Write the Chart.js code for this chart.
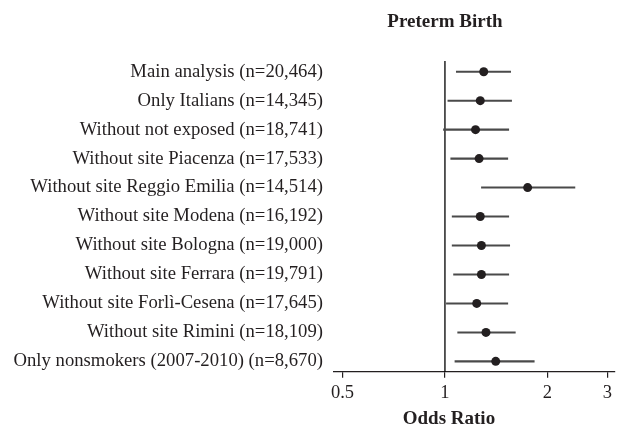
<!DOCTYPE html>
<html>
<head>
<meta charset="utf-8">
<script src="https://cdn.jsdelivr.net/npm/chart.js@4.4.1/dist/chart.umd.min.js"></script>
<style>
  html, body { margin: 0; padding: 0; background: #fff; }
  #wrap { width: 619px; height: 429px; }
</style>
</head>
<body>
<div id="wrap"><canvas id="forest"></canvas></div>
<script>
// rows, top to bottom
const rowLabels = [
    'Main analysis (n=20,464)',
    'Only Italians (n=14,345)',
    'Without not exposed (n=18,741)',
    'Without site Piacenza (n=17,533)',
    'Without site Reggio Emilia (n=14,514)',
    'Without site Modena (n=16,192)',
    'Without site Bologna (n=19,000)',
    'Without site Ferrara (n=19,791)',
    'Without site Forlì-Cesena (n=17,645)',
    'Without site Rimini (n=18,109)',
    'Only nonsmokers (2007-2010) (n=8,670)'
];
const oddsRatio = [1.30, 1.27, 1.23, 1.26, 1.75, 1.27, 1.28, 1.28, 1.24, 1.32, 1.41];
const ciLower   = [1.08, 1.02, 0.99, 1.04, 1.28, 1.05, 1.05, 1.06, 1.01, 1.09, 1.07];
const ciUpper   = [1.56, 1.57, 1.54, 1.53, 2.41, 1.54, 1.55, 1.54, 1.53, 1.61, 1.83];
const xTicks = [0.5, 1, 2, 3];
const refValue = 1;
const chartTitle = 'Preterm Birth';
const xTitle = 'Odds Ratio';

const ink = '#231f20';
const serif = "'Liberation Serif', 'Times New Roman', serif";

// titles are centred on the OR = 1 line, so draw them here
const forestExtras = {
    id: 'forestExtras',
    beforeDatasetsDraw(chart) {
        const {ctx, chartArea, scales} = chart;
        const x = scales.x.getPixelForValue(refValue);
        ctx.save();
        ctx.strokeStyle = '#000';
        ctx.lineWidth = 1.3;
        ctx.beginPath();
        ctx.moveTo(x, chartArea.top);
        ctx.lineTo(x, chartArea.bottom);
        ctx.stroke();
        ctx.restore();
    },
    afterDraw(chart) {
        const {ctx, scales} = chart;
        const x = scales.x.getPixelForValue(refValue);
        ctx.save();
        ctx.fillStyle = ink;
        ctx.font = 'bold 19px ' + serif;
        ctx.textAlign = 'center';
        ctx.textBaseline = 'middle';
        ctx.fillText(chartTitle, x, 22);
        ctx.fillText(xTitle, x + 4, 419);
        ctx.restore();
    }
};

new Chart(document.getElementById('forest'), {
    type: 'bar',
    data: {
        datasets: [
            {
                type: 'scatter',
                label: 'OR',
                data: oddsRatio.map((v, i) => ({x: v, y: i})),
                pointRadius: 4.5,
                pointHoverRadius: 4.5,
                backgroundColor: ink,
                borderWidth: 0,
                showLine: false,
                order: 0
            },
            {
                label: '95% CI',
                data: ciLower.map((lo, i) => ({x: [lo, ciUpper[i]], y: i})),
                backgroundColor: '#4a4a4a',
                barThickness: 1.4,
                order: 1
            }
        ]
    },
    plugins: [forestExtras],
    options: {
        indexAxis: 'y',
        responsive: true,
        maintainAspectRatio: false,
        animation: false,
        layout: {
            padding: {top: 61, bottom: 21, left: 0, right: 1}
        },
        plugins: {
            legend: {display: false},
            tooltip: {enabled: false},
            title: {display: false}
        },
        scales: {
            x: {
                type: 'logarithmic',
                min: 0.472,
                max: 3.15,
                afterBuildTicks: axis => {
                    axis.ticks = xTicks.map(v => ({value: v}));
                },
                ticks: {
                    autoSkip: false,
                    maxRotation: 0,
                    padding: 4,
                    color: ink,
                    font: {family: serif, size: 18.5},
                    callback: v => String(v)
                },
                grid: {
                    drawOnChartArea: false,
                    drawTicks: true,
                    tickLength: 6,
                    color: ink,
                    lineWidth: 1.2
                },
                border: {display: true, color: ink, width: 1.2}
            },
            y: {
                type: 'linear',
                reverse: true,
                offset: false,
                min: -0.37,
                max: 10.36,
                afterBuildTicks: axis => {
                    axis.ticks = rowLabels.map((_, i) => ({value: i}));
                },
                afterFit: axis => {
                    axis.width = 334;
                },
                ticks: {
                    autoSkip: false,
                    padding: 11,
                    color: ink,
                    font: {family: serif, size: 18.7},
                    callback: v => rowLabels[v]
                },
                grid: {display: false, drawTicks: false},
                border: {display: false}
            }
        }
    }
});
</script>
</body>
</html>
